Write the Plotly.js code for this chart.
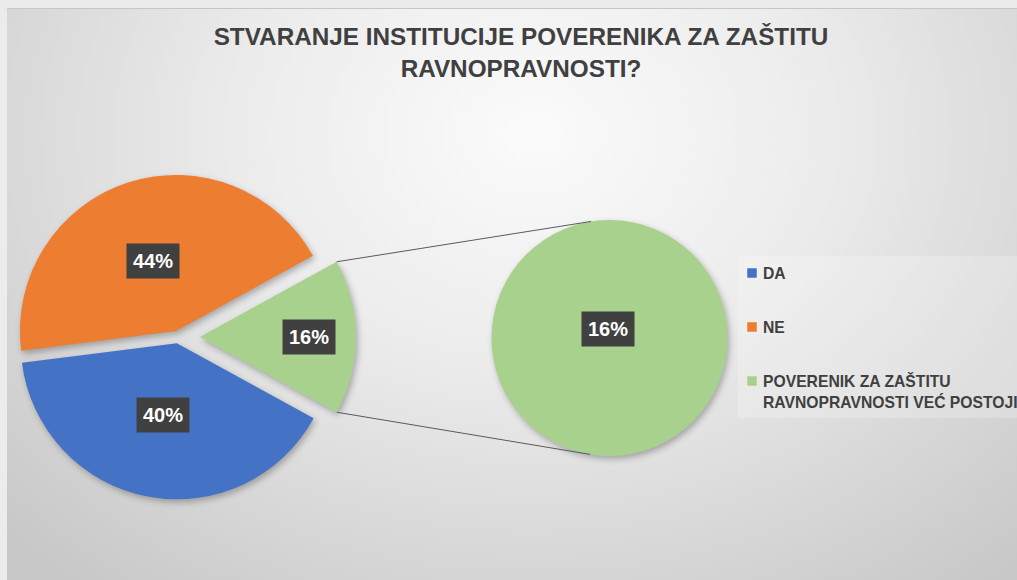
<!DOCTYPE html>
<html><head><meta charset="utf-8">
<script src="https://cdn.plot.ly/plotly-3.0.1.min.js"></script>
<style>
html,body{margin:0;padding:0;width:1017px;height:580px;overflow:hidden;background:#ececec;}
#frame{position:absolute;left:7px;top:8px;width:1010px;height:572px;border-top:1px solid #c6c6c6;box-sizing:border-box;
 background:radial-gradient(ellipse 72% 100% at 52% 22%, #fbfbfb 0%, #ececec 40%, #dadada 70%, #c8c8c8 100%);}
#chart{position:absolute;left:0;top:0;width:1017px;height:580px;}
.slice path.surface{filter:drop-shadow(2px 3px 3px rgba(0,0,0,0.28));}
</style></head><body>
<div id="frame"></div><div id="chart"></div>
<script>
// ---- data ----
const labels = ['DA', 'NE', 'POVERENIK ZA ZAŠTITU<br>RAVNOPRAVNOSTI VEĆ POSTOJI'];
const values = [40, 44, 16];
const colors = ['#4472C4', '#ED7D31', '#A9D18E'];
const secondaryLabels = [labels[2]];
const secondaryValues = [16];
const titleText = 'STVARANJE INSTITUCIJE POVERENIKA ZA ZAŠTITU<br>RAVNOPRAVNOSTI?';

// ---- layout geometry (pixels) ----
const W = 1017, H = 580;
const FONT = '"Liberation Sans", Arial, sans-serif';
const TXT = '#404040';
const pulls = [0.04, 0.04, 0.14];
const main = {cx: 178, cy: 337, half: 178};
const sec = {cx: 609.5, cy: 338, r: 118};
const labelFrac = [0.47, 0.47, 0.70];
const leg = {sqX: 752, sq: 9.5, textX: 762, y0: 273, step: 54, lineStep: 21, box: [738, 256, 1030, 418]};

const fx = px => px / W;
const fy = py => 1 - py / H;
const rad = d => d * Math.PI / 180;

const total = values.reduce((a, b) => a + b, 0);
const otherFrac = values[values.length - 1] / total;
const startDeg = -otherFrac * 180;            // math angle where first slice starts
const rotation = 90 - startDeg;               // plotly: clockwise from 12 o'clock
const maxPull = Math.max(...pulls);
const rMain = main.half / (1 + maxPull);

let acc = 0; const mids = [];
values.forEach(v => { const f = v / total; mids.push(startDeg - (acc + f / 2) * 360); acc += f; });

const pulledCenter = i => [main.cx + pulls[i] * rMain * Math.cos(rad(mids[i])),
                           main.cy - pulls[i] * rMain * Math.sin(rad(mids[i]))];

const traces = [
  {type: 'pie', labels: labels, values: values, sort: false, direction: 'clockwise',
   rotation: rotation, pull: pulls, marker: {colors: colors, line: {width: 0}},
   textinfo: 'none', showlegend: false, hoverinfo: 'label+percent',
   domain: {x: [fx(main.cx - main.half), fx(main.cx + main.half)],
            y: [fy(main.cy + main.half), fy(main.cy - main.half)]}},
  {type: 'pie', labels: secondaryLabels, values: secondaryValues, sort: false,
   marker: {colors: [colors[2]], line: {width: 0}}, textinfo: 'none', showlegend: false,
   hoverinfo: 'label',
   domain: {x: [fx(sec.cx - sec.r), fx(sec.cx + sec.r)], y: [fy(sec.cy + sec.r), fy(sec.cy - sec.r)]}}
];

const annotations = [];
const shapes = [];
const pct = v => Math.round(v / total * 100) + '%';
const boxLabel = (px, py, t) => annotations.push({xref: 'paper', yref: 'paper', x: fx(px), y: fy(py),
  xanchor: 'center', yanchor: 'middle', showarrow: false, text: t, bgcolor: '#404040', borderpad: 6,
  font: {family: FONT, size: 20, color: '#ffffff', weight: 'bold'}});

values.forEach((v, i) => {
  const [pcx, pcy] = pulledCenter(i);
  const d = labelFrac[i] * rMain;
  boxLabel(pcx + d * Math.cos(rad(mids[i])), pcy - d * Math.sin(rad(mids[i])), pct(v));
});
boxLabel(sec.cx - 2, sec.cy - 9, pct(secondaryValues[0]));

// connector lines from the "other" slice arc ends to tangent points of secondary pie
const [gx, gy] = pulledCenter(values.length - 1);
[[startDeg + otherFrac * 360, 1], [startDeg, -1]].forEach(([a, s]) => {
  const px = gx + rMain * Math.cos(rad(a)), py = gy - rMain * Math.sin(rad(a));
  const dx = px - sec.cx, dy = py - sec.cy, dist = Math.hypot(dx, dy);
  const phi = Math.atan2(dy, dx), beta = Math.acos(sec.r / dist);
  const tx = sec.cx + sec.r * Math.cos(phi + s * beta), ty = sec.cy + sec.r * Math.sin(phi + s * beta);
  shapes.push({type: 'line', xref: 'paper', yref: 'paper', x0: fx(px), y0: fy(py), x1: fx(tx), y1: fy(ty),
    line: {color: '#5a5a5a', width: 1}});
});

// legend
shapes.push({type: 'rect', xref: 'paper', yref: 'paper', layer: 'below',
  x0: fx(leg.box[0]), y0: fy(leg.box[1]), x1: fx(leg.box[2]), y1: fy(leg.box[3]),
  fillcolor: 'rgba(255,255,255,0.22)', line: {width: 0}});
labels.forEach((lab, i) => {
  const yc = leg.y0 + i * leg.step;
  shapes.push({type: 'rect', xref: 'paper', yref: 'paper',
    x0: fx(leg.sqX - leg.sq / 2), x1: fx(leg.sqX + leg.sq / 2), y0: fy(yc - leg.sq / 2), y1: fy(yc + leg.sq / 2),
    fillcolor: colors[i], line: {width: 0}});
  lab.split('<br>').forEach((ln, k) => {
    annotations.push({xref: 'paper', yref: 'paper', x: fx(leg.textX), y: fy(yc + k * leg.lineStep),
      xanchor: 'left', yanchor: 'middle', showarrow: false, text: ln, borderpad: 0,
      font: {family: FONT, size: 15.7, color: TXT, weight: 'bold'}});
  });
});

const layout = {
  width: W, height: H, margin: {l: 0, r: 0, t: 0, b: 0},
  paper_bgcolor: 'rgba(0,0,0,0)', plot_bgcolor: 'rgba(0,0,0,0)',
  title: {text: titleText, x: fx(521), xanchor: 'center', y: fy(45), yanchor: 'top',
          font: {family: FONT, size: 24.3, color: TXT, weight: 'bold'}},
  showlegend: false, annotations: annotations, shapes: shapes
};
Plotly.newPlot('chart', traces, layout, {displayModeBar: false, responsive: false});
</script>
</body></html>
